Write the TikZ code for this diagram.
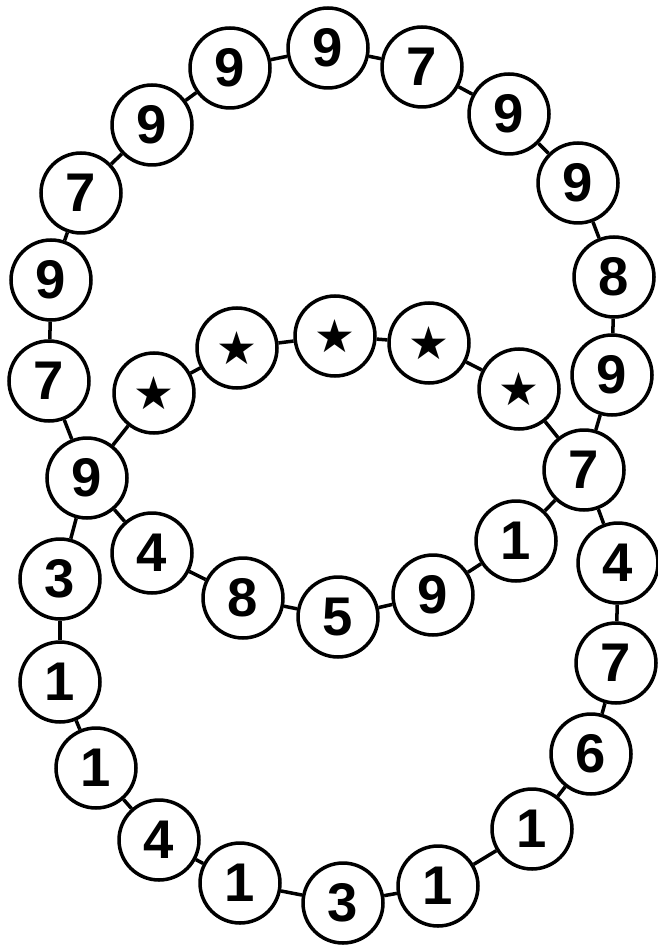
\documentclass[tikz,border=0pt]{standalone}
\usepackage{fontspec}
\setmainfont{Liberation Sans}
\newfontfamily\starfont{DejaVu Sans}
\usepackage{tikz}
\tikzset{
  bead/.style={circle, draw=black, line width=2pt, fill=white, minimum size=1.6cm, inner sep=0pt, font=\fontsize{31}{31}\selectfont\bfseries},
  starbead/.style={bead, font=\fontsize{26}{26}\starfont},
  link/.style={line width=2pt},
}

\begin{document}
\begin{tikzpicture}[x=0.02cm, y=-0.02cm]
          \useasboundingbox (0,0) rectangle (657,945);

          % shared beads
          \node[bead] (left9) at (87,478) {9};
          \node[bead] (right7) at (584,470) {7};

          % outer ring, upper half
          \node[bead] (outer1) at (49,381) {7};
          \node[bead] (outer2) at (51,280) {9};
          \node[bead] (outer3) at (81,193) {7};
          \node[bead] (outer4) at (152,125) {9};
          \node[bead] (outer5) at (230,68) {9};
          \node[bead] (outer6) at (328,48) {9};
          \node[bead] (outer7) at (422,67) {7};
          \node[bead] (outer8) at (509,114) {9};
          \node[bead] (outer9) at (578,183) {9};
          \node[bead] (outer10) at (614,277) {8};
          \node[bead] (outer11) at (612,375) {9};

          % outer ring, lower half
          \node[bead] (outer12) at (618,563) {4};
          \node[bead] (outer13) at (616,663) {7};
          \node[bead] (outer14) at (591,754) {6};
          \node[bead] (outer15) at (532,829) {1};
          \node[bead] (outer16) at (438,886) {1};
          \node[bead] (outer17) at (343,903) {3};
          \node[bead] (outer18) at (240,883) {1};
          \node[bead] (outer19) at (159,840) {4};
          \node[bead] (outer20) at (96,768) {1};
          \node[bead] (outer21) at (60,682) {1};
          \node[bead] (outer22) at (60,579) {3};

          % inner ring
          \node[starbead] (star1) at (154,393) {★};
          \node[starbead] (star2) at (237,348) {★};
          \node[starbead] (star3) at (335,336) {★};
          \node[starbead] (star4) at (429,343) {★};
          \node[starbead] (star5) at (519,389) {★};
          \node[bead] (inner1) at (516,541) {1};
          \node[bead] (inner2) at (433,595) {9};
          \node[bead] (inner3) at (338,617) {5};
          \node[bead] (inner4) at (243,598) {8};
          \node[bead] (inner5) at (152,553) {4};

          % outer links
          \draw[link] (left9) -- (outer1);
          \draw[link] (outer1) -- (outer2);
          \draw[link] (outer2) -- (outer3);
          \draw[link] (outer3) -- (outer4);
          \draw[link] (outer4) -- (outer5);
          \draw[link] (outer5) -- (outer6);
          \draw[link] (outer6) -- (outer7);
          \draw[link] (outer7) -- (outer8);
          \draw[link] (outer8) -- (outer9);
          \draw[link] (outer9) -- (outer10);
          \draw[link] (outer10) -- (outer11);
          \draw[link] (outer11) -- (right7);
          \draw[link] (right7) -- (outer12);
          \draw[link] (outer12) -- (outer13);
          \draw[link] (outer13) -- (outer14);
          \draw[link] (outer14) -- (outer15);
          \draw[link] (outer15) -- (outer16);
          \draw[link] (outer16) -- (outer17);
          \draw[link] (outer17) -- (outer18);
          \draw[link] (outer18) -- (outer19);
          \draw[link] (outer19) -- (outer20);
          \draw[link] (outer20) -- (outer21);
          \draw[link] (outer21) -- (outer22);
          \draw[link] (outer22) -- (left9);

          % inner links
          \draw[link] (left9) -- (star1);
          \draw[link] (star1) -- (star2);
          \draw[link] (star2) -- (star3);
          \draw[link] (star3) -- (star4);
          \draw[link] (star4) -- (star5);
          \draw[link] (star5) -- (right7);
          \draw[link] (right7) -- (inner1);
          \draw[link] (inner1) -- (inner2);
          \draw[link] (inner2) -- (inner3);
          \draw[link] (inner3) -- (inner4);
          \draw[link] (inner4) -- (inner5);
          \draw[link] (inner5) -- (left9);
        \end{tikzpicture}
\end{document}
